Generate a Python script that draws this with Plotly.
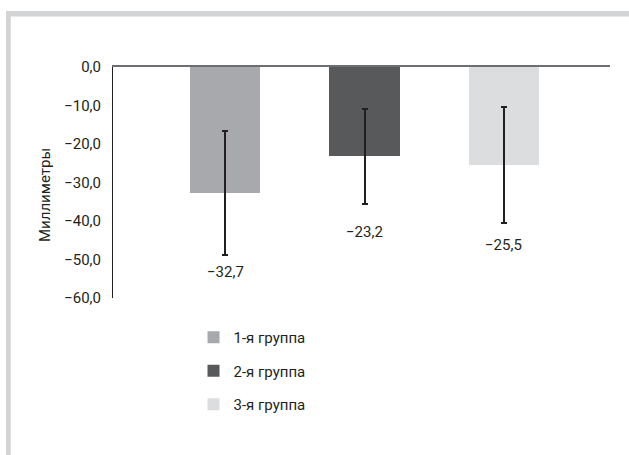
import plotly.graph_objects as go

groups = ["1-я группа", "2-я группа", "3-я группа"]
values = [-32.7, -23.2, -25.5]
errors = [16.0, 12.4, 15.1]
value_labels = ["−32,7", "−23,2", "−25,5"]
colors = ["#a7a9ac", "#58595b", "#dcddde"]
label_offsets_px = [17, 28, 22]
tick_vals = [0, -10, -20, -30, -40, -50, -60]
tick_text = ["0,0", "−10,0", "−20,0", "−30,0", "−40,0", "−50,0", "−60,0"]

FONT = "Roboto, 'Open Sans', sans-serif"
TXT = "#231f20"

fig = go.Figure()
for i, (g, v, e, c) in enumerate(zip(groups, values, errors, colors)):
    fig.add_trace(go.Bar(
        x=[i], y=[v], name=g, width=0.502,
        marker=dict(color=c, line=dict(width=0)),
        error_y=dict(type="data", array=[e], symmetric=True,
                     color=TXT, thickness=2, width=3),
        legendgroup=g,
    ))
    fig.add_annotation(x=i, y=v - e, text=value_labels[i], showarrow=False,
                       yanchor="middle", yshift=-label_offsets_px[i],
                       font=dict(family=FONT, size=15, color=TXT))

fig.add_annotation(xref="paper", yref="paper", x=-0.1368, y=0.446,
                   text="Миллиметры", textangle=-90, showarrow=False,
                   xanchor="center", yanchor="middle",
                   font=dict(family=FONT, size=15, color=TXT))

# light frame
frame = "#d3d4d5"
fig.add_shape(type="rect", xref="paper", yref="paper", x0=-0.2153, x1=-0.2058,
              y0=-0.72, y1=1.2424, fillcolor=frame, line=dict(width=0), layer="below")
fig.add_shape(type="rect", xref="paper", yref="paper", x0=-0.2153, x1=1.05,
              y0=1.2186, y1=1.2424, fillcolor=frame, line=dict(width=0), layer="below")

fig.update_layout(
    width=629, height=455,
    margin=dict(l=113, r=19, t=67, b=157),
    paper_bgcolor="white", plot_bgcolor="white",
    font=dict(family=FONT, size=15, color=TXT),
    showlegend=True,
    legend=dict(x=0.162, y=-0.0996, xanchor="left", yanchor="top",
                traceorder="grouped", tracegroupgap=11,
                font=dict(family=FONT, size=15, color=TXT),
                bgcolor="rgba(0,0,0,0)"),
    xaxis=dict(range=[-0.803, 2.760], side="top", showline=True,
               linecolor="#6d6e71", linewidth=1.5, showticklabels=False,
               ticks="", showgrid=False, zeroline=False, fixedrange=True),
    yaxis=dict(range=[-60, 0], tickvals=tick_vals, ticktext=tick_text,
               showline=True, linecolor=TXT, linewidth=1, ticks="",
               ticklabelstandoff=8, showgrid=False, zeroline=False,
               tickfont=dict(family=FONT, size=15, color=TXT)),
    bargap=0,
)

fig.write_html("out.html", config={"displayModeBar": False},
               post_script="document.body.style.margin='0';document.body.style.overflow='hidden';")
